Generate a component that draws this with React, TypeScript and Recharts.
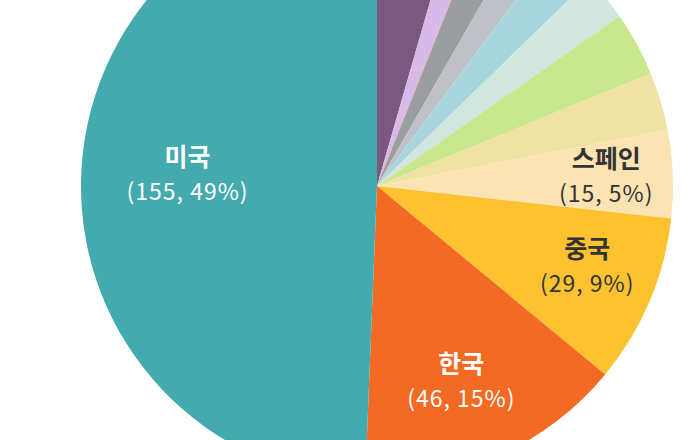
import React from "react";
import { PieChart, Pie, Cell } from "recharts";

const countries = ["기타1", "기타2", "기타3", "기타4", "기타5", "기타6", "기타7", "기타8", "스페인", "중국", "한국", "미국"];
const counts = [14, 5, 7, 6, 8, 8, 11, 10, 15, 29, 46, 155];
const colors = [
  "#7B5880",
  "#D9B9E6",
  "#9C9DA1",
  "#BEC1C5",
  "#A8D6DF",
  "#D0E6DE",
  "#C9E78C",
  "#EFE2A2",
  "#FCE3B4",
  "#FDC22F",
  "#F26A24",
  "#43AAAE",
];

const data = countries.map((name, i) => ({ name, value: counts[i] }));

const labelRadius: Record<string, number> = { 미국: 0.64, 한국: 0.715, 중국: 0.76, 스페인: 0.775 };
const labelShift: Record<string, [number, number]> = { 미국: [0, -10], 한국: [-2, 0], 중국: [3, -10], 스페인: [0, -3] };
const labelColor: Record<string, string> = { 미국: "#ffffff", 한국: "#ffffff", 중국: "#333333", 스페인: "#333333" };

const RAD = Math.PI / 180;

const renderLabel = (props: any) => {
  const { cx, cy, midAngle, outerRadius, name, value, percent } = props;
  if (!(name in labelRadius)) return null;
  const r = outerRadius * labelRadius[name];
  const [sx, sy] = labelShift[name];
  const x = cx + r * Math.cos(-midAngle * RAD) + sx;
  const y = cy + r * Math.sin(-midAngle * RAD) + sy;
  const fill = labelColor[name];
  const pct = Math.round(percent * 100);
  return (
    <g>
      <text x={x} y={y - 17} textAnchor="middle" dominantBaseline="central" fill={fill} fontSize={25} fontWeight={600} fontFamily="'Noto Sans CJK KR', 'Noto Sans', sans-serif">
        {name}
      </text>
      <text x={x} y={y + 18} textAnchor="middle" dominantBaseline="central" fill={fill} fontSize={23} fontWeight={400} letterSpacing={1} fontFamily="'Noto Sans CJK KR', 'Noto Sans', sans-serif">
        {`(${value}, ${pct}%)`}
      </text>
    </g>
  );
};

export default function App() {
  return (
    <div style={{ width: 700, height: 440, background: "#ffffff" }}>
      <style>{`body{margin:0}`}</style>
      <PieChart width={700} height={440} margin={{ top: 0, right: 0, bottom: 0, left: 0 }}>
        <Pie
          data={data}
          dataKey="value"
          nameKey="name"
          cx={377}
          cy={186}
          outerRadius={296}
          startAngle={90}
          endAngle={-270}
          stroke="none"
          labelLine={false}
          label={renderLabel}
          isAnimationActive={false}
        >
          {data.map((d, i) => (
            <Cell key={d.name} fill={colors[i]} />
          ))}
        </Pie>
      </PieChart>
    </div>
  );
}
